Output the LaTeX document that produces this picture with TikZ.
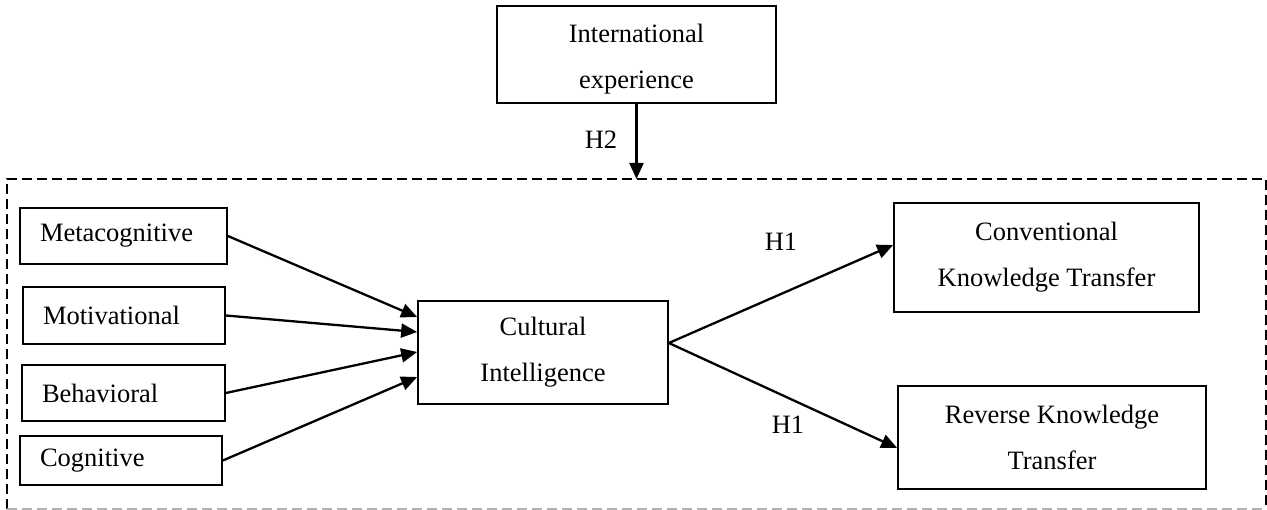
\documentclass[tikz,border=0pt]{standalone}
\usepackage{fontspec}
\setmainfont{Liberation Serif}
\usetikzlibrary{arrows.meta}
\begin{document}
\begin{tikzpicture}[x=1pt,y=-1pt,
  txt/.style={font=\fontsize{26.5}{46}\selectfont},
  box/.style={draw, line width=1.7pt, inner sep=0pt, align=center, txt},
  lbox/.style={draw, line width=1.7pt, inner ysep=0pt, inner xsep=20pt, align=left, txt},
  conn/.style={line width=2.3pt, -{Triangle[length=16pt,width=14pt]}},
  frame/.style={line width=1.7pt, dash pattern=on 10pt off 5pt},
  lab/.style={txt, inner sep=0pt}]
\useasboundingbox (0,0) rectangle (1267,510);

% dashed frame
\coordinate (fTL) at (7,179);
\coordinate (fTR) at (1266,179);
\coordinate (fBL) at (7,509);
\coordinate (fBR) at (1266,509);
\draw[frame] (fBL) -- (fTL) -- (fTR) -- (fBR);
\draw[frame, draw=black!30] (fBL) -- (fBR);

% nodes
\node[box, minimum width=279pt, minimum height=97pt] (ie) at (636.5,54.5) {\rule{0pt}{27pt}International\\experience};
\node[lbox, text width=167pt, minimum height=56pt] (meta) at (123.5,236) {Metacognitive};
\node[lbox, text width=162pt, minimum height=57pt] (moti) at (124,315.5) {Motivational};
\node[lbox, text width=163pt, minimum height=56pt] (beha) at (123.5,393) {Behavioral};
\node[lbox, text width=162pt, minimum height=49pt] (cogn) at (121,460.5) {Cognitive};
\node[box, minimum width=250pt, minimum height=103pt] (cult) at (543,352.5) {Cultural\\Intelligence};
\node[box, minimum width=305pt, minimum height=109pt] (conv) at (1046.5,257.5) {Conventional\\Knowledge Transfer};
\node[box, minimum width=308pt, minimum height=103pt] (rev) at (1052,437.5) {Reverse Knowledge\\Transfer};

% connectors
\draw[conn] (ie.south) -- (ie.south |- fTL);
\draw[conn] (meta.east) -- ([yshift=35.5pt]cult.west);
\draw[conn] (moti.east) -- ([yshift=20.5pt]cult.west);
\draw[conn] (beha.east) -- ([yshift=0.5pt]cult.west);
\draw[conn] (cogn.east) -- ([yshift=-24.5pt]cult.west);
\coordinate (jn) at ([yshift=9.5pt]cult.east);
\draw[conn] (jn) -- ([yshift=12.5pt]conv.west);
\draw[conn] (jn) -- ([yshift=-10.5pt]rev.west);

% labels
\node[lab] (h2) at (601,140) {H2};
\node[lab] (h1a) at (781,242) {H1};
\node[lab] (h1b) at (788,425) {H1};
\end{tikzpicture}
\end{document}
